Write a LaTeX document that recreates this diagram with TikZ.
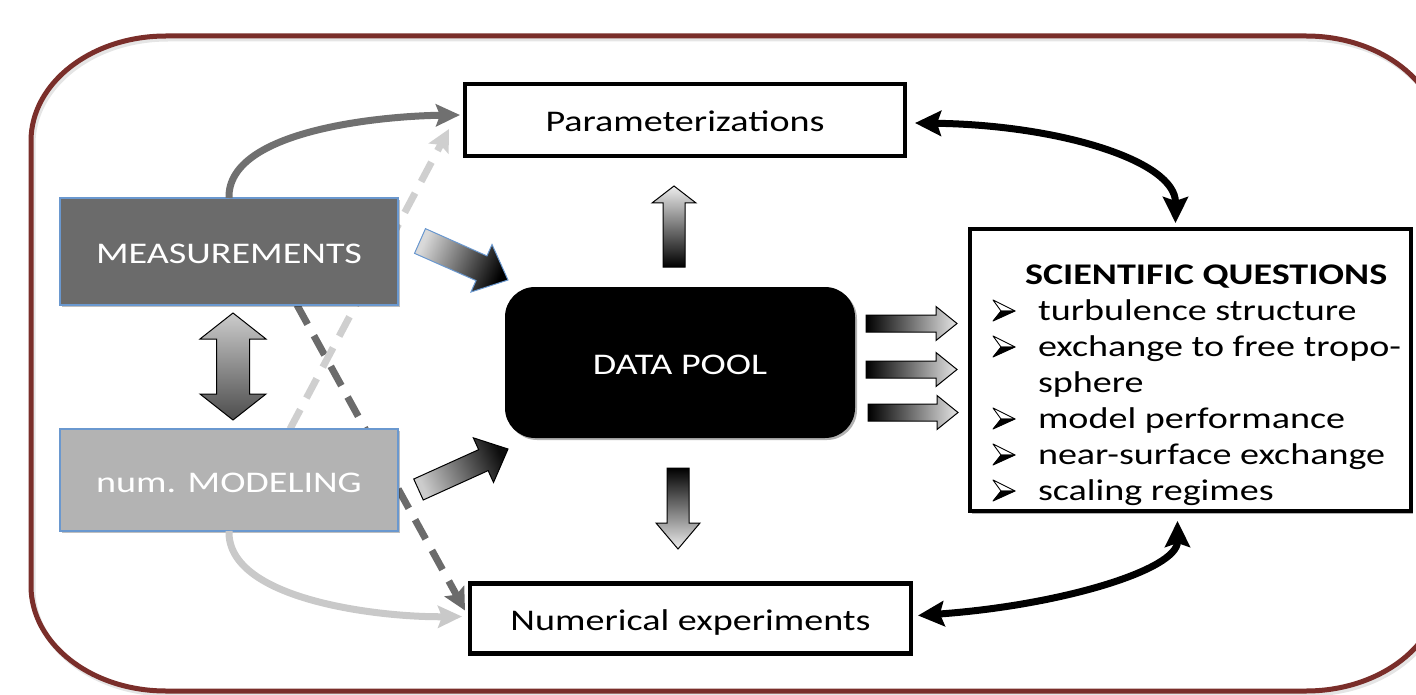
\documentclass[tikz,border=0pt]{standalone}
\usepackage{fontspec}
\setmainfont{Carlito}[FakeStretch=1.27]
\usetikzlibrary{calc,arrows.meta,shadows,backgrounds}
\definecolor{framered}{HTML}{7A2E2A}
\definecolor{measfill}{HTML}{6B6B6B}
\definecolor{modfill}{HTML}{B3B3B3}
\definecolor{boxblue}{HTML}{6A98CF}
\definecolor{curvegray}{HTML}{707070}
\definecolor{curvelight}{HTML}{C9C9C9}
\definecolor{dashdarkc}{HTML}{6B6B6B}
\definecolor{dashlightc}{HTML}{CFCFCF}

\newcommand\blockarr[6]{% style, tail, tip, half shaft, half head, head length
  \path ($#3!#6!#2$) coordinate (bh);
  \draw[#1] ($#2!#4!90:#3$) -- ($(bh)!#4!90:#3$) -- ($(bh)!#5!90:#3$) -- #3
    -- ($(bh)!#5!-90:#3$) -- ($(bh)!#4!-90:#3$) -- ($#2!#4!-90:#3$) -- cycle;}
\newcommand\dblarr[6]{% style, tip A, tip B, half shaft, half head, head length
  \path ($#2!#6!#3$) coordinate (ha) ($#3!#6!#2$) coordinate (hb);
  \draw[#1] #2 -- ($(ha)!#5!90:#2$) -- ($(ha)!#4!90:#2$) -- ($(hb)!#4!-90:#3$)
    -- ($(hb)!#5!-90:#3$) -- #3 -- ($(hb)!#5!90:#3$) -- ($(hb)!#4!90:#3$)
    -- ($(ha)!#4!-90:#2$) -- ($(ha)!#5!-90:#2$) -- cycle;}
\newcommand\outerframepath{(166,36) -- (1306,36) arc[start angle=270, end angle=360, x radius=135, y radius=105]
  -- (1441,586) arc[start angle=0, end angle=90, x radius=135, y radius=105]
  -- (166,691) arc[start angle=90, end angle=180, x radius=135, y radius=105]
  -- (31,141) arc[start angle=180, end angle=270, x radius=135, y radius=105] -- cycle}

\tikzset{
  txt/.style={font=\fontsize{30}{36}\selectfont},
  box/.style={txt, draw=black, line width=4.5pt, fill=white, text height=24pt, text depth=0pt,
    drop shadow={shadow xshift=2pt, shadow yshift=-2.5pt, opacity=0.3, fill=black}},
  gbox/.style={txt, draw=boxblue, line width=1.2pt, text=white, text height=24pt, text depth=0pt,
    drop shadow={shadow xshift=2pt, shadow yshift=-2pt, opacity=0.25, fill=black}},
  poolbox/.style={txt, fill=black, rounded corners=30pt, text=white, text height=24pt, text depth=0pt,
    drop shadow={shadow xshift=2pt, shadow yshift=-2pt, opacity=0.3, fill=black}},
  gcurve/.style={line width=7pt, draw=curvegray, -{Stealth[length=24pt,width=22pt,inset=4pt]}},
  lcurve/.style={line width=7pt, draw=curvelight, -{Stealth[length=24pt,width=22pt,inset=4pt]}},
  dashdark/.style={line width=7pt, draw=dashdarkc, dash pattern=on 22pt off 13pt, -{Stealth[length=22pt,width=22pt,inset=4pt]}},
  dashlight/.style={line width=7pt, draw=dashlightc, dash pattern=on 22pt off 13pt, -{Stealth[length=22pt,width=22pt,inset=4pt]}},
  bcurve/.style={line width=7pt, draw=black, {Stealth[length=26pt,width=25pt,inset=4pt]}-{Stealth[length=26pt,width=25pt,inset=4pt]}},
  barrow/.style={draw=black, line width=1pt, line join=miter},
  qline/.style={txt, anchor=base west},
  qbullet/.pic={
    \filldraw[fill=white, draw=black, line width=0.9pt, line join=round] (0,-20) -- (22,-9) -- (8,-9) -- cycle;
    \filldraw[fill=black, draw=black, line width=0.9pt, line join=round] (8,-9) -- (22,-9) -- (0,1) -- cycle;
  }
}

\begin{document}
\begin{tikzpicture}[x=1pt, y=-1pt, every node/.style={outer sep=0pt, inner sep=0pt}]
\useasboundingbox (0,0) rectangle (1416,695);
\clip (0,0) rectangle (1416,695);

% outer frame with soft shadow
\begin{scope}[shift={(2,3)}]
  \draw[line width=5pt, black, opacity=0.1] \outerframepath;
\end{scope}
\draw[line width=5pt, framered] \outerframepath;

% boxes
\node[box, minimum width=440pt, minimum height=72pt] (param) at (685,120) {Parameterizations};
\node[box, minimum width=441pt, minimum height=70pt] (numexp) at (690.5,618.5) {Numerical experiments};
\node[box, minimum width=441pt, minimum height=282pt] (sq) at (1190.5,370) {};
\node[gbox, fill=measfill, minimum width=338pt, minimum height=107pt] (meas) at (229,251.5) {MEASUREMENTS};
\node[gbox, fill=modfill, minimum width=338pt, minimum height=102pt] (model) at (229,480) {num. MODELING};
\node[poolbox, minimum width=350pt, minimum height=151pt] (dp) at (680,362.5) {DATA POOL};

% scientific questions text
\node[qline, font=\fontsize{30}{36}\selectfont\bfseries] (q0) at (1025,284) {SCIENTIFIC QUESTIONS};
\node[qline] (q1) at (1038,320) {turbulence structure};
\node[qline] (q2) at (1038,356) {exchange to free tropo-};
\node[qline] (q3) at (1038,392) {sphere};
\node[qline] (q4) at (1038,428) {model performance};
\node[qline] (q5) at (1038,464) {near-surface exchange};
\node[qline] (q6) at (1038,500) {scaling regimes};
\pic at (993,320) {qbullet};
\pic at (993,356) {qbullet};
\pic at (993,428) {qbullet};
\pic at (993,464) {qbullet};
\pic at (993,500) {qbullet};

% dashed connectors behind the boxes
\begin{pgfonlayer}{background}
  \draw[dashdark] ([xshift=68pt]meas.south) -- ([xshift=-5pt,yshift=8pt]numexp.west);
  \draw[dashlight] ([xshift=61pt]model.north) -- ([xshift=-16pt,yshift=-9pt]param.west);
\end{pgfonlayer}

% curved connectors
\draw[gcurve] (meas.north) .. controls +(-2,-68) and +(-78,1) .. ([xshift=-5pt,yshift=5pt]param.west);
\draw[lcurve] (model.south) .. controls +(-2,69) and +(-82,1) .. ([xshift=-8pt,yshift=2pt]numexp.west);
\draw[bcurve] ([xshift=10pt,yshift=-3pt]param.east) .. controls +(145,2) and +(0,-62) .. ([xshift=-15pt,yshift=6pt]sq.north);
\draw[bcurve] ([xshift=7pt,yshift=3pt]numexp.east) .. controls +(142,-10) and +(0,49) .. ([xshift=-13pt,yshift=-10pt]sq.south);

% block arrows
\coordinate (upT) at ([xshift=-6pt,yshift=20pt]dp.north);
\coordinate (upP) at ([xshift=-11pt,yshift=-30pt]param.south);
\coordinate (dnT) at ([xshift=-2pt,yshift=-30pt]dp.south);
\coordinate (dnP) at ([xshift=-12.5pt,yshift=34.5pt]numexp.north);
\coordinate (r1T) at ([xshift=11pt,yshift=39pt]dp.east);
\coordinate (r1P) at ([xshift=-13pt,yshift=46.5pt]sq.west);
\coordinate (r2T) at ([xshift=11pt,yshift=-7pt]dp.east);
\coordinate (r2P) at ([xshift=-13pt,yshift=0.5pt]sq.west);
\coordinate (r3T) at ([xshift=13pt,yshift=-50pt]dp.east);
\coordinate (r3P) at ([xshift=-12pt,yshift=-42.5pt]sq.west);
\coordinate (mdT) at ([xshift=22pt,yshift=10.5pt]meas.east);
\coordinate (mdP) at ([xshift=3pt,yshift=7pt]dp.north west);
\coordinate (odT) at ([xshift=20.5pt,yshift=-9.5pt]model.east);
\coordinate (odP) at ([xshift=3pt,yshift=-11pt]dp.south west);
\coordinate (vA) at ([xshift=4pt,yshift=-8pt]meas.south);
\coordinate (vB) at ([xshift=4pt,yshift=9pt]model.north);

\blockarr{barrow, top color=white!93!black, bottom color=black}{(upT)}{(upP)}{11pt}{22pt}{17pt}
\blockarr{barrow, top color=black, bottom color=white!93!black}{(dnT)}{(dnP)}{11pt}{22pt}{26pt}
\blockarr{barrow, top color=white!90!black, bottom color=black, shading angle=-90}{(r1T)}{(r1P)}{8.5pt}{17pt}{21pt}
\blockarr{barrow, top color=white!90!black, bottom color=black, shading angle=-90}{(r2T)}{(r2P)}{8.5pt}{17pt}{21pt}
\blockarr{barrow, top color=white!90!black, bottom color=black, shading angle=-90}{(r3T)}{(r3P)}{8.5pt}{17pt}{21pt}
\blockarr{barrow, draw=boxblue, top color=black, bottom color=white!85!black, shading angle=-114}{(mdT)}{(mdP)}{13.5pt}{26pt}{29pt}
\blockarr{barrow, top color=black!95, bottom color=white!80!black, shading angle=-66}{(odT)}{(odP)}{11.5pt}{24.5pt}{27pt}
\dblarr{barrow, top color=white!80!black, bottom color=black!70}{(vA)}{(vB)}{16.5pt}{33pt}{26pt}
\end{tikzpicture}
\end{document}
